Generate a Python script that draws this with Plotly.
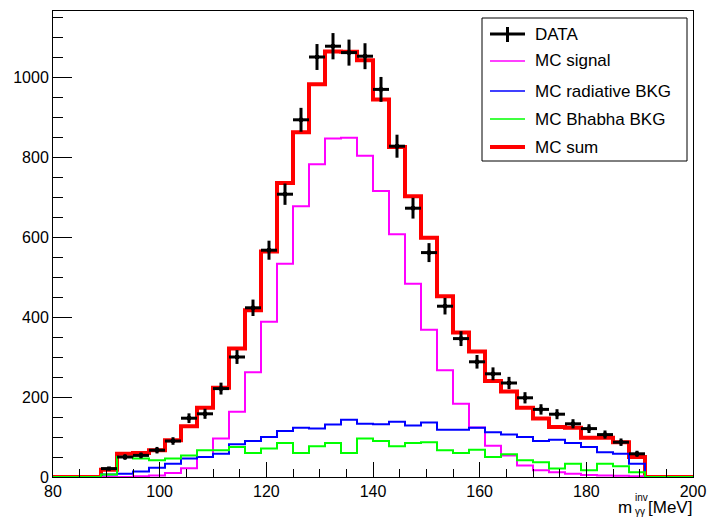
import numpy as np
import plotly.graph_objects as go

# ---- binning (40 bins of 3 MeV from 80 to 200) ----
bin_lo = 80.0
bin_w = 3.0
n_bins = 40
edges = bin_lo + bin_w * np.arange(n_bins + 1)
centers = edges[:-1] + bin_w / 2

# ---- histogram contents ----
mc_signal = [0, 0, 0, 0, 0, 2, 4, 10, 22, 50, 96, 163, 262, 388, 533, 677, 782, 846, 848, 803,
             715, 607, 483, 368, 267, 183, 124, 78, 54, 29, 17, 12, 8, 5, 4, 3, 2, 0, 0, 0]
mc_radiative = [0, 0, 0, 6, 8, 14, 23, 33, 46, 50, 58, 82, 90, 100, 115, 123, 121, 131, 143, 133,
                132, 138, 129, 136, 118, 118, 123, 112, 106, 100, 90, 93, 85, 75, 62, 58, 33, 0, 0, 0]
mc_bhabha = [0, 0, 0, 6, 50, 46, 42, 46, 54, 67, 67, 75, 60, 71, 85, 60, 77, 85, 60, 96,
             90, 77, 85, 87, 67, 60, 68, 50, 57, 42, 37, 21, 33, 17, 33, 27, 12, 0, 0, 0]
mc_sum = [0, 0, 0, 18, 58, 60, 67, 92, 127, 173, 223, 321, 417, 564, 735, 862, 982, 1064, 1063, 1042,
          944, 825, 702, 598, 452, 361, 314, 240, 214, 173, 146, 125, 123, 98, 98, 87, 50, 0, 0, 0]
data = [0, 0, 0, 21, 50, 54, 67, 90, 147, 158, 221, 300, 423, 567, 707, 893, 1050, 1077, 1061, 1052,
        969, 827, 672, 561, 427, 346, 288, 258, 235, 198, 169, 157, 133, 121, 106, 87, 58, 0, 0, 0]

x_ticks = [80, 100, 120, 140, 160, 180, 200]
y_ticks = [0, 200, 400, 600, 800, 1000]

legend_labels = ["DATA", "MC signal", "MC radiative BKG", "MC Bhabha BKG", "MC sum"]

FONT = "Liberation Sans, Arial, Helvetica, sans-serif"

fig = go.Figure()


def step_trace(vals, color, width, name):
    y = list(vals) + [vals[-1]]
    return go.Scatter(x=edges, y=y, mode="lines", line=dict(color=color, width=width, shape="hv"),
                      name=name, showlegend=False, hoverinfo="skip")


fig.add_trace(step_trace(mc_sum, "#ff0000", 4, "MC sum"))
fig.add_trace(step_trace(mc_signal, "#ff00ff", 2, "MC signal"))
fig.add_trace(step_trace(mc_radiative, "#0000ff", 2, "MC radiative BKG"))
fig.add_trace(step_trace(mc_bhabha, "#00ff00", 2, "MC Bhabha BKG"))

d = np.array(data, dtype=float)
mask = d > 0
fig.add_trace(go.Scatter(
    x=centers[mask], y=d[mask], mode="markers", name="DATA", showlegend=False,
    marker=dict(size=4, color="black", symbol="square"),
    error_y=dict(type="data", array=np.sqrt(d[mask]), width=0, thickness=3, color="black"),
    error_x=dict(type="constant", value=bin_w / 2, width=0, thickness=3, color="black"),
))

# ---- geometry helpers (pixel -> paper) ----
L, R, T, B = 53, 17, 11, 41
W, H = 710, 518
PW, PH = W - L - R, H - T - B


def px(x):
    return (x - L) / PW


def py(y):
    return (H - B - y) / PH


shapes = []
annotations = []

# legend box
shapes.append(dict(type="rect", xref="paper", yref="paper", x0=px(482), x1=px(687), y0=py(161), y1=py(18),
                   line=dict(color="black", width=1), fillcolor="white", layer="above"))
rows = [34, 61, 91, 119, 147]
sym_colors = ["black", "#ff00ff", "#0000ff", "#00ff00", "#ff0000"]
sym_widths = [3, 1.5, 1.5, 1.5, 4]
for lab, yy, c, w in zip(legend_labels, rows, sym_colors, sym_widths):
    shapes.append(dict(type="line", xref="paper", yref="paper", x0=px(490), x1=px(525), y0=py(yy), y1=py(yy),
                       line=dict(color=c, width=w), layer="above"))
    annotations.append(dict(x=px(533), y=py(yy), xref="paper", yref="paper", text=lab, showarrow=False,
                            xanchor="left", yanchor="middle", font=dict(family=FONT, size=17, color="black")))
shapes.append(dict(type="line", xref="paper", yref="paper", x0=px(507.5), x1=px(507.5), y0=py(42), y1=py(27),
                   line=dict(color="black", width=3), layer="above"))

# axis title  m^{inv}_{γγ} [MeV]
annotations.append(dict(x=px(633), y=py(507), xref="paper", yref="paper", text="m", showarrow=False,
                        borderpad=0, xanchor="right", yanchor="middle",
                        font=dict(family=FONT, size=17, color="black")))
annotations.append(dict(x=px(633.5), y=py(497), xref="paper", yref="paper", text="inv", showarrow=False,
                        borderpad=0, xanchor="left", yanchor="middle",
                        font=dict(family=FONT, size=10, color="black")))
annotations.append(dict(x=px(633.5), y=py(511.5), xref="paper", yref="paper", text="γγ", showarrow=False,
                        borderpad=0, xanchor="left", yanchor="middle",
                        font=dict(family=FONT, size=10, color="black")))
annotations.append(dict(x=px(694), y=py(507), xref="paper", yref="paper", text="[MeV]", showarrow=False,
                        xanchor="right", yanchor="middle", font=dict(family=FONT, size=17, color="black")))

fig.update_layout(
    width=W, height=H,
    margin=dict(l=L, r=R, t=T, b=B, pad=0, autoexpand=False),
    paper_bgcolor="white", plot_bgcolor="white",
    showlegend=False,
    font=dict(family=FONT, size=16, color="black"),
    shapes=shapes, annotations=annotations,
)
fig.update_xaxes(range=[80, 200], tickvals=x_ticks, ticktext=[str(v) for v in x_ticks],
                 ticks="inside", ticklen=15, tickwidth=1, tickcolor="black",
                 minor=dict(dtick=5, tick0=80, ticks="inside", ticklen=8, tickwidth=1, tickcolor="black"),
                 showline=True, linecolor="black", linewidth=1, mirror=True, automargin=False,
                 showgrid=False, zeroline=False, tickfont=dict(family=FONT, size=16, color="black"))
fig.update_yaxes(range=[0, 1165], tickvals=y_ticks, ticktext=[str(v) for v in y_ticks],
                 ticks="inside", ticklen=19, tickwidth=1, tickcolor="black",
                 minor=dict(dtick=50, tick0=0, ticks="inside", ticklen=10, tickwidth=1, tickcolor="black"),
                 showline=True, linecolor="black", linewidth=1, mirror=True, automargin=False,
                 showgrid=False, zeroline=False, tickfont=dict(family=FONT, size=16, color="black"))

fig.write_html("out.html", config={"displayModeBar": False},
               post_script="document.body.style.margin='0';document.body.style.padding='0';")
